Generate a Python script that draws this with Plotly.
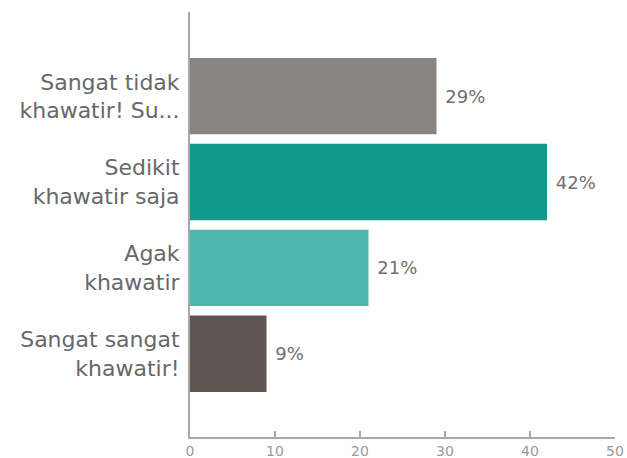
import plotly.graph_objects as go

categories = ["Sangat tidak<br>khawatir! Su...", "Sedikit<br>khawatir saja", "Agak<br>khawatir", "Sangat sangat<br>khawatir!"]
values = [29, 42, 21, 9]
colors = ["#8a8482", "#0f9a8c", "#4fb8ae", "#5f5652"]
tick_vals = [0, 10, 20, 30, 40, 50]

fig = go.Figure(go.Bar(
    x=values, y=categories, orientation="h",
    marker=dict(color=colors, line=dict(width=0)),
    text=[f"\u00a0{v}%" for v in values], textposition="outside",
    textfont=dict(size=18, color="#707070", family="DejaVu Sans"),
    cliponaxis=False,
))

fig.update_layout(
    width=627, height=458,
    margin=dict(l=190, r=12, t=12, b=21),
    paper_bgcolor="white", plot_bgcolor="white",
    bargap=0.11, showlegend=False,
    font=dict(family="DejaVu Sans", color="#666666"),
)
fig.update_xaxes(
    range=[0, 50], tickvals=tick_vals, showgrid=False, zeroline=False,
    showline=True, linecolor="#a8a8a8", linewidth=2,
    ticks="inside", ticklen=6, tickwidth=1.5, tickcolor="#a8a8a8",
    tickfont=dict(size=14, color="#9a9a9a", family="DejaVu Sans"),
    automargin=False,
)
fig.update_yaxes(
    type="category", categoryorder="array", categoryarray=categories,
    range=[3.97, -0.98], showgrid=False, zeroline=False,
    showline=True, linecolor="#a8a8a8", linewidth=2, ticks="", ticklen=0,
    ticklabelstandoff=4,
    tickfont=dict(size=22, color="#686868", family="DejaVu Sans"),
    automargin=False,
)

fig.write_html("out.html", config={"displayModeBar": False},
               post_script="document.body.style.margin='0';")
